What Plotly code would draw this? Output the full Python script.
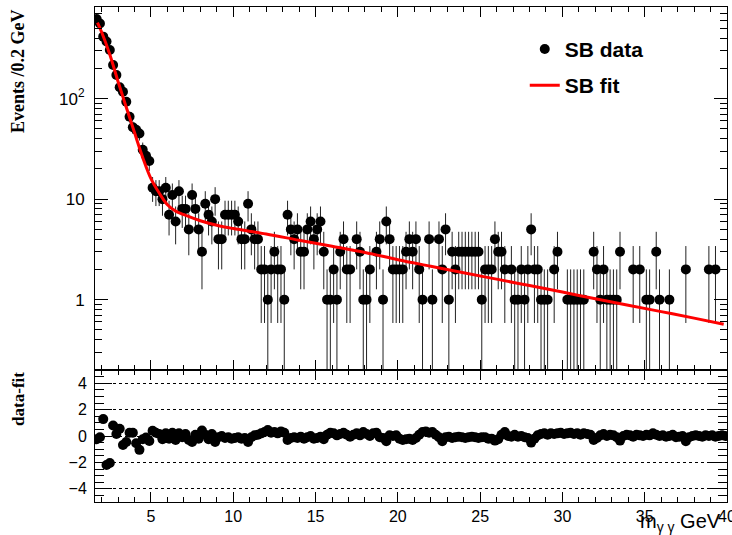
import math
import numpy as np
import plotly.graph_objects as go

# ---------------- data ----------------
first_bin_center = 1.7
bin_width = 0.2

# SB data counts per 0.2 GeV bin (None = empty bin)
counts = [
    621, 560, 414, 370, 305, 216, 172, 130, 117, 93,          # 1.7 - 3.5
    66, 52, 49, 45, 31, 27, 24, 13, 12, 12,                   # 3.7 - 5.5
    10, 13, 7, 11, 6, 12, 8, 8, 5, 11,                        # 5.7 - 7.5
    8, 5, 3, 9, 7, 6, 10, 4, 4, 7,                            # 7.7 - 9.5
    7, 7, 7, 6, 4, 4, 9, 5, 4, 4,                             # 9.7 - 11.5
    2, 2, 1, 2, 3, 2, 2, 1, 7, 5,                             # 11.7 - 13.5
    4, 5, 3, 3, 5, 6, 4, 5, 6, 3,                             # 13.7 - 15.5
    1, 1, 2, 1, 3, 4, 2, 2, None, 4,                          # 15.7 - 17.5
    3, 1, 1, 2, None, 3, 4, 1, 6, 4,                          # 17.7 - 19.5
    2, 2, 2, 2, 3, 4, 3, 4, 2, 1,                             # 19.7 - 21.5
    None, 4, 1, None, 4, 2, 5, 1, 3, 2,                       # 21.7 - 23.5
    3, 3, 3, 3, 3, 3, 3, 1, 2, 2,                             # 23.7 - 25.5
    2, 4, 3, 3, 2, None, 2, 1, 1, 2,                          # 25.7 - 27.5
    1, 2, 5, 2, 2, 1, 1, 1, None, 2,                          # 27.7 - 29.5
    3, None, None, 1, 1, 1, 1, 1, 1, None,                    # 29.7 - 31.5
    None, 3, 2, 1, 2, 1, 1, 1, 1, 3,                          # 31.7 - 33.5
    None, None, None, 2, None, 2, None, 1, 1, None,           # 33.7 - 35.5
    3, 1, None, None, 1, None, None, None, None, 2,           # 35.7 - 37.5
    None, None, None, None, None, None, 2, None, 2, None,     # 37.7 - 39.5
    None, None,                                               # 39.7 - 39.9
]

# data - fit
residuals = [
    -0.25, -0.1, 1.28, -2.2, -2.05, 0.8, 0.15, 0.55, -0.68, -0.45,
    0.25, 0.25, -0.55, -1.05, -0.25, -0.12, -0.38, 0.4, 0.25, 0.15,
    -0.25, 0.2, -0.2, 0.25, -0.3, 0.2, -0.1, 0.15, -0.3, -0.45,
    0.1, -0.2, 0.42, 0.1, -0.25, 0.15, -0.45, -0.1, 0.0, -0.15,
    -0.1, -0.2, -0.15, -0.1, -0.2, -0.15, -0.45, -0.1, 0.05, 0.1,
    0.2, 0.3, 0.45, 0.25, 0.3, 0.2, 0.35, 0.25, -0.3, -0.15,
    -0.1, -0.15, -0.05, -0.2, -0.1, 0.0, -0.2, -0.15, -0.05, -0.25,
    0.1, 0.25, 0.2, 0.05, 0.15, 0.25, 0.1, -0.05, 0.1, 0.2,
    0.05, 0.3, 0.15, 0.0, 0.2, 0.25, -0.1, -0.15, -0.4, 0.05,
    0.0, 0.05, -0.2, -0.3, -0.25, -0.2, -0.3, -0.15, 0.1, 0.3,
    0.35, 0.25, 0.3, 0.1, -0.1, -0.4, -0.1, -0.05, -0.15, -0.1,
    -0.05, -0.1, -0.15, -0.1, -0.05, -0.1, -0.15, -0.1, -0.1, -0.2,
    -0.2, -0.35, -0.25, 0.1, 0.3, 0.0, -0.05, 0.1, -0.05, 0.0,
    -0.1, -0.15, -0.5, -0.2, 0.05, 0.15, 0.2, 0.1, 0.2, 0.15,
    0.2, 0.25, 0.15, 0.2, 0.25, 0.15, 0.2, 0.1, 0.2, 0.15,
    0.1, -0.3, -0.15, 0.05, 0.15, 0.0, 0.1, 0.05, -0.1, -0.35,
    0.0, 0.1, 0.05, -0.05, 0.1, 0.05, 0.0, 0.1, 0.05, 0.2,
    0.1, 0.0, 0.05, -0.05, 0.0, 0.1, -0.1, -0.05, 0.0, -0.4,
    -0.1, 0.0, 0.05, 0.0, -0.05, 0.05, 0.0, 0.05, -0.05, 0.0,
    0.05, 0.0,
]

# SB fit curve
fit_x = [1.75, 2.0, 2.5, 3.0, 3.5, 4.0, 4.5, 5.0, 5.5, 6.0, 6.5, 7.0, 8.0, 9.0,
         10, 12, 14, 16, 18, 20, 22, 24, 26, 28, 30, 32, 34, 36, 38, 39.8]
fit_y = [570, 460, 275, 148, 82, 46, 26, 16, 11.5, 8.8, 7.6, 7.0, 6.1, 5.5,
         5.1, 4.5, 3.9, 3.4, 2.95, 2.5, 2.15, 1.85, 1.6, 1.38, 1.19, 1.02, 0.88,
         0.76, 0.655, 0.57]

x_tick_vals = [5, 10, 15, 20, 25, 30, 35, 40]
y_tick_vals = [1, 10, 100]
y_tick_text = ["1", "10", "10<sup>2</sup>"]
y_minor_vals = [0.2, 0.3, 0.4, 0.5, 0.6, 0.7, 0.8, 0.9,
                2, 3, 4, 5, 6, 7, 8, 9,
                20, 30, 40, 50, 60, 70, 80, 90,
                200, 300, 400, 500, 600, 700]
res_tick_vals = [-4, -2, 0, 2, 4]

# ---------------- derived ----------------
bin_centers = np.round(first_bin_center + bin_width * np.arange(len(counts)), 2)
err = [math.sqrt(c) if c else None for c in counts]

SANS = "Liberation Sans, Arial, sans-serif"
SERIF = "Liberation Serif, Times New Roman, serif"

fig = go.Figure()

fig.add_trace(go.Scatter(
    x=bin_centers, y=counts, mode="markers", name="SB data",
    legendgroup="data",
    marker=dict(color="black", size=10, symbol="circle"),
    error_y=dict(type="data", array=err, arrayminus=err, color="#222222",
                 thickness=1, width=0),
    xaxis="x", yaxis="y",
))
fig.add_trace(go.Scatter(
    x=fit_x, y=fit_y, mode="lines", name="SB fit", legendgroup="fit",
    line=dict(color="#ff0000", width=3, shape="spline"),
    xaxis="x", yaxis="y",
))
fig.add_trace(go.Scatter(
    x=bin_centers, y=residuals, mode="markers", showlegend=False,
    marker=dict(color="black", size=10),
    xaxis="x2", yaxis="y2",
))

split = 132 / 495.0

common_x = dict(
    range=[1.6, 40.0005], tickmode="array", tickvals=x_tick_vals,
    ticks="inside", ticklen=10, tickcolor="black", showline=True,
    linecolor="black", linewidth=1, mirror="ticks", showgrid=False,
    zeroline=False, automargin=False,
    minor=dict(ticks="inside", dtick=1, tick0=0, ticklen=5, tickcolor="black",
               showgrid=False),
)

fig.update_layout(
    width=732, height=535,
    margin=dict(l=95, r=5, t=7, b=33, autoexpand=False),
    paper_bgcolor="white", plot_bgcolor="white",
    font=dict(family=SANS, color="black"),
    showlegend=True,
    legend=dict(x=0.68, y=0.956, xanchor="left", yanchor="top",
                bgcolor="rgba(0,0,0,0)", borderwidth=0,
                font=dict(family=SANS, size=21, weight="bold", color="black"),
                tracegroupgap=6, itemsizing="trace"),
    xaxis=dict(domain=[0, 1], anchor="y", showticklabels=False, **common_x),
    yaxis=dict(domain=[split, 1], anchor="x", type="log",
               range=[-0.70, 2.912], tickmode="array", tickvals=y_tick_vals,
               ticktext=y_tick_text, ticks="inside", ticklen=13,
               tickcolor="black", showline=True, linecolor="black",
               linewidth=1, mirror="ticks", showgrid=False, zeroline=False,
               tickfont=dict(family=SANS, size=17), automargin=False,
               ticklabelstandoff=6,
               minor=dict(tickmode="array", tickvals=y_minor_vals,
                          ticks="inside", ticklen=7, tickcolor="black",
                          showgrid=False)),
    xaxis2=dict(domain=[0, 1], anchor="y2", matches="x", showticklabels=True,
                tickfont=dict(family=SANS, size=16),
                ticklabeloverflow="allow", **common_x),
    yaxis2=dict(domain=[0, split], anchor="x2", range=[-5, 5],
                tickmode="array", tickvals=res_tick_vals, ticks="inside",
                ticklen=17, tickcolor="black", showline=True,
                linecolor="black", linewidth=1, mirror="ticks",
                showgrid=True, gridcolor="black", gridwidth=1, griddash="dot",
                zeroline=False, tickfont=dict(family=SANS, size=16),
                ticklabelstandoff=4, automargin=False,
                minor=dict(ticks="inside", dtick=0.5, tick0=0, ticklen=9,
                           tickcolor="black", showgrid=False)),
    annotations=[
        dict(text="Events /0.2 GeV", textangle=-90, xref="paper", yref="paper",
             x=-0.122, y=1.0, xanchor="center", yanchor="top", showarrow=False,
             font=dict(family=SERIF, size=18, weight="bold", color="black")),
        dict(text="data-fit", textangle=-90, xref="paper", yref="paper",
             x=-0.122, y=split, xanchor="center", yanchor="top",
             showarrow=False,
             font=dict(family=SERIF, size=17, weight="bold", color="black")),
        dict(text="m<sub>γ γ</sub> GeV", xref="paper", yref="paper",
             x=1.0, y=-0.041, xanchor="right", yanchor="middle", xshift=-4,
             showarrow=False,
             font=dict(family=SANS, size=20, color="black")),
    ],
)

fig.write_html("out.html")
